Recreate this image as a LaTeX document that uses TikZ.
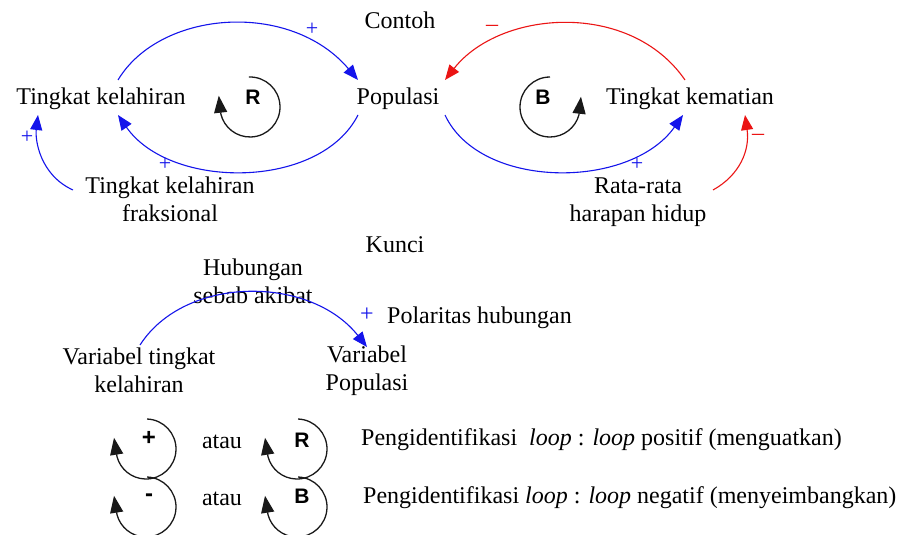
\documentclass[tikz,border=0pt]{standalone}
\usepackage{fontspec}
\setmainfont{Liberation Serif}
\newfontfamily\loopfont{Liberation Sans}
\usetikzlibrary{arrows.meta,calc}
\definecolor{linkblue}{RGB}{20,20,235}
\definecolor{linkred}{RGB}{235,20,20}
\begin{document}
\begin{tikzpicture}[x=1pt,y=-1pt,
  txt/.style={font=\fontsize{24}{28}\selectfont, inner sep=0pt, anchor=base, align=center},
  pol/.style={font=\fontsize{22}{24}\selectfont, inner sep=0pt, text=linkblue},
  neg/.style={font=\fontsize{24}{26}\selectfont, inner sep=0pt, text=linkred},
  loopname/.style={font=\loopfont\bfseries\fontsize{21}{23}\selectfont, inner sep=0pt, anchor=base},
  loopsign/.style={font=\loopfont\bfseries\fontsize{24}{26}\selectfont, inner sep=0pt},
  pos link/.style={draw=linkblue, line width=1.1pt, -{Triangle[length=15pt,width=12pt]}},
  neg link/.style={draw=linkred, line width=1.1pt, -{Triangle[length=15pt,width=12pt]}},
  loop arrow/.style={draw=black!90, line width=1.3pt, -{Triangle[length=17pt,width=13pt]}}
]
\useasboundingbox (0,0) rectangle (911,535);
\fill[white] (0,0) rectangle (911,535);

% ---------- example diagram ----------
% (multi-line nodes are placed by the baseline of their last line)
\node[txt] (contoh) at (400,29) {Contoh};
\node[txt] (tk) at (101,105) {Tingkat kelahiran};
\node[txt] (pop) at (398,105) {Populasi};
\node[txt] (tm) at (690,105) {Tingkat kematian};
\node[txt] (tkf) at (170,221) {Tingkat kelahiran\\fraksional};
\node[txt] (rr) at (638,221) {Rata-rata\\harapan hidup};

% loop identifiers: an arc around the letter, finished by an upward arrowhead
\node[loopname] (R) at (253,105) {R};
\node[loopname] (B) at (543,105) {B};
\draw[loop arrow] ($(R.base)+(-3,2)+(-92:30)$) arc[start angle=-92,end angle=167,radius=30] -- ++(-2,-18);
\draw[loop arrow] ($(B.base)+(7,2)+(-90:30)$) arc[start angle=-90,end angle=-345,radius=30] -- ++(2,-18);

% causal links
\draw[pos link] ($(tk.base)+(17,-25)$) .. controls +(42,-70) and +(-68,-80) .. ($(pop.base)+(-40,-25)$);
\node[pol] (s1) at (312,29) {+};
\draw[pos link] ($(pop.base)+(-40,10)$) .. controls +(-38,75) and +(52,75) .. ($(tk.base)+(17,10)$);
\node[pol] (s2) at (165,164) {+};
\draw[pos link] ($(tkf.base)+(-97,-31)$) .. controls +(-33,-15) and +(-3,25) .. ($(tk.base)+(-63,10)$);
\node[pol] (s3) at (27,137) {+};
\draw[neg link] ($(tm.base)+(-5,-25)$) .. controls +(-55,-80) and +(55,-70) .. ($(pop.base)+(47,-25)$);
\node[neg] (s4) at (492,28) {–};
\draw[pos link] ($(pop.base)+(47,10)$) .. controls +(35,75) and +(-53,75) .. ($(tm.base)+(-7,10)$);
\node[pol] (s5) at (637,164) {+};
\draw[neg link] ($(rr.base)+(75,-31)$) .. controls +(27,-15) and +(5,35) .. ($(tm.base)+(55,10)$);
\node[neg] (s6) at (758,137) {–};

% ---------- key ----------
\node[txt] (kunci) at (395,252) {Kunci};
\node[txt] (hub) at (253,303) {Hubungan\\sebab akibat};
\node[txt, anchor=base west] (polar) at (387,323) {Polaritas hubungan};
\node[pol, font=\fontsize{24}{26}\selectfont] (polsign) at (367,315) {+};
\node[txt] (vtk) at (139,392) {Variabel tingkat\\kelahiran};
\node[txt] (vpop) at (367,390) {Variabel\\Populasi};
\draw[pos link] ($(vtk.base)+(1,-47)$) .. controls +(45,-70) and +(-57,-72) .. ($(vpop.base)+(0,-43)$);

% loop identifier legend
\node[loopsign] (kplus) at (149,438) {+};
\node[loopsign] (kminus) at (149,498) {-};
\node[txt] (atau1) at (222,448) {atau};
\node[txt] (atau2) at (222,505) {atau};
\node[loopname] (kR) at (302,447) {R};
\node[loopname] (kB) at (302,503) {B};
\draw[loop arrow] ($(kplus)+(-3,11)+(-88:30)$) arc[start angle=-88,end angle=165,radius=30] -- ++(-3,-19);
\draw[loop arrow] ($(kminus)+(-3,9)+(-88:30)$) arc[start angle=-88,end angle=165,radius=30] -- ++(-3,-19);
\draw[loop arrow] ($(kR.base)+(-5,2)+(-88:30)$) arc[start angle=-88,end angle=165,radius=30] -- ++(-3,-19);
\draw[loop arrow] ($(kB.base)+(-5,4)+(-88:30)$) arc[start angle=-88,end angle=165,radius=30] -- ++(-3,-19);
\node[txt, anchor=base west] (lpos) at (361,445) {Pengidentifikasi\ \ \textit{loop} : \textit{loop} positif (menguatkan)};
\node[txt, anchor=base west] (lneg) at (363,503) {Pengidentifikasi \textit{loop} : \textit{loop} negatif (menyeimbangkan)};
\end{tikzpicture}
\end{document}
